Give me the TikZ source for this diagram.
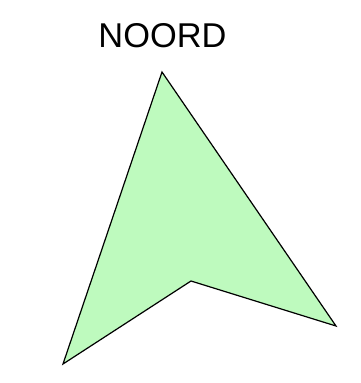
\documentclass[tikz,border=0pt]{standalone}
\usepackage{fontspec}
\setmainfont{Liberation Sans}
\usepackage{tikz}
\usetikzlibrary{positioning}
\definecolor{arrowgreen}{RGB}{190,250,190}
\tikzstyle{label} = [
    inner sep=0pt,
    anchor=base,
    font=\fontsize{25.8}{30}\selectfont
]
\tikzstyle{pointer} = [
    draw=black,
    fill=arrowgreen,
    line width=0.9pt,
    line join=miter
]
\begin{document}
\begin{tikzpicture}[x=0.75pt, y=-0.75pt]
        \useasboundingbox (0,0) rectangle (361,383);

        % North arrow
        \coordinate (tip) at (162,72);
        \coordinate (left) at (63,364);
        \coordinate (notch) at (191,281);
        \coordinate (right) at (336,326);
        \draw[pointer] (tip) -- (right) -- (notch) -- (left) -- cycle;

        % Label
        \node[label] (north) at (162.5,47.3) {NOORD};
    \end{tikzpicture}
\end{document}
